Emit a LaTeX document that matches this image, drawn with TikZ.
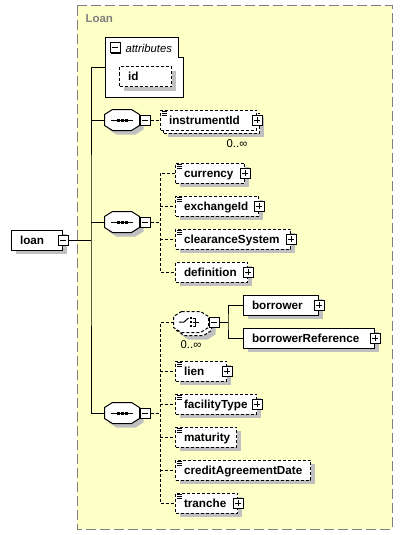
\documentclass[tikz,border=0pt]{standalone}
\usepackage{fontspec}
\setmainfont{Liberation Sans}
\usetikzlibrary{shadows,positioning}

\definecolor{typebg}{RGB}{255,255,200}
\definecolor{typeline}{RGB}{128,128,128}
\definecolor{shadowgrey}{RGB}{192,192,192}

\newcommand{\elemfont}{\fontsize{11.7}{14}\selectfont\bfseries}
\newcommand{\notefont}{\fontsize{11.3}{14}\selectfont}

% small marks drawn inside nodes
\newcommand{\typemark}[1]{%
  \foreach \dy in {2,4,6} \draw ([shift={(1.5pt,-\dy pt)}]#1.north west) -- ++(5pt,0pt);}
\newcommand{\seqicon}[1]{%
  \draw ([xshift=-11pt]#1.center) -- ([xshift=11pt]#1.center);
  \foreach \dx in {-4,0,4} \fill ([shift={(\dx pt-1.5pt,-1.5pt)}]#1.center) rectangle ++(3pt,3pt);}
\newcommand{\choiceicon}[1]{%
  \draw ([xshift=-12pt]#1.center) -- ([xshift=-7pt]#1.center) -- ([shift={(-2.5pt,4pt)}]#1.center);
  \foreach \dy in {-4,0,4} \fill ([shift={(-1.5pt,\dy pt-1.2pt)}]#1.center) rectangle ++(2.5pt,2.5pt);
  \draw ([shift={(1.5pt,4pt)}]#1.center) -- ([shift={(4.5pt,4pt)}]#1.center) -- ([shift={(4.5pt,-4pt)}]#1.center) -- ([shift={(1.5pt,-4pt)}]#1.center)
        ([shift={(1.5pt,0pt)}]#1.center) -- ([shift={(8pt,0pt)}]#1.center);}
% octagon of a compositor, with its shadow
\newcommand{\compshape}[2][]{%
  \fill[shadowgrey, transform canvas={shift={(4pt,-4pt)}}, octagon=#2];
  \filldraw[fill=white, #1, octagon=#2];}

\tikzset{
  box/.style={rectangle, draw=black, fill=white, font=\elemfont, minimum height=20pt, inner xsep=8.5pt, inner ysep=0pt,
    text height=10.5pt, text depth=2.5pt, align=left, anchor=west},
  opt/.style={box, dash pattern=on 3pt off 2pt},
  shadowed/.style={drop shadow={shadow xshift=4pt, shadow yshift=-4pt, fill=shadowgrey, opacity=1}},
  compositor/.style={rectangle, minimum width=34pt, minimum height=20pt, inner sep=0pt},
  octagon/.style={insert path={([xshift=8pt]#1.north west) -- ([xshift=-8pt]#1.north east) -- ([yshift=-5pt]#1.north east)
    -- ([yshift=5pt]#1.south east) -- ([xshift=-8pt]#1.south east) -- ([xshift=8pt]#1.south west)
    -- ([yshift=5pt]#1.south west) -- ([yshift=-5pt]#1.north west) -- cycle}},
  pmbox/.style={rectangle, draw=black, fill=white, minimum size=10pt, inner sep=0pt,
    drop shadow={shadow xshift=1pt, shadow yshift=-1pt, fill=black, opacity=1}},
  minusbox/.style={pmbox, path picture={
    \draw ([xshift=2pt]path picture bounding box.west) -- ([xshift=-2pt]path picture bounding box.east);}},
  plusbox/.style={pmbox, path picture={
    \draw ([xshift=2pt]path picture bounding box.west) -- ([xshift=-2pt]path picture bounding box.east)
          ([yshift=-2pt]path picture bounding box.north) -- ([yshift=2pt]path picture bounding box.south);}},
  link/.style={dash pattern=on 3pt off 2pt},
  note/.style={font=\notefont, inner sep=0pt}
}

\begin{document}
\begin{tikzpicture}[x=1pt, y=-1pt, line width=1pt]
  \useasboundingbox (0,0) rectangle (402,535);

  % complex type
  \draw[typeline, fill=typebg, dash pattern=on 10pt off 4pt] (77,6) rectangle (392,529);
  \node[anchor=west, inner sep=0pt, text=typeline, font=\fontsize{11.5}{13}\selectfont\bfseries] (typename) at (85,19) {Loan};

  % attributes
  \draw[fill=white] (105,38) -- (178,38) -- (178,58) -- (183,58) -- (183,97) -- (105,97) -- cycle;
  \coordinate (attrs) at (105,67.5);
  \node[minusbox] (attrsm) at (115,48) {};
  \node[anchor=west, inner sep=0pt, font=\notefont\itshape] (attrslabel) at (125,48) {attributes};
  \node[opt, shadowed, text width=35pt] (id) at (119,76.5) {id};

  % root element
  \node[box, shadowed, text width=34pt] (loan) at (11,240) {loan};
  \node[minusbox] (loanm) at (loan.east) {};

  % first sequence
  \node[compositor] (seqA) at (122,120) {};
  \compshape{seqA}
  \node[minusbox, anchor=west] (seqAm) at (seqA.east) {};
  \node[opt, shadowed, minimum width=96pt] (instrback) at (163,123) {};
  \node[opt, text width=79pt] (instr) at (160,120) {instrumentId};
  \node[plusbox] (instrp) at (instr.east) {};
  \node[note] (instrn) at (237,144) {0..∞};

  % second sequence
  \node[compositor] (seqB) at (122,222) {};
  \compshape{seqB}
  \node[minusbox, anchor=west] (seqBm) at (seqB.east) {};
  \coordinate (forkB) at (160,222);
  \node[opt, shadowed, text width=52pt] (currency) at (175,173) {currency};
  \node[plusbox] (currencyp) at (currency.east) {};
  \node[opt, shadowed, text width=66pt] (exchangeId) at (175,206) {exchangeId};
  \node[plusbox] (exchangeIdp) at (exchangeId.east) {};
  \node[opt, shadowed, text width=98pt] (clearanceSystem) at (175,239) {clearanceSystem};
  \node[plusbox] (clearanceSystemp) at (clearanceSystem.east) {};
  \node[opt, shadowed, text width=55pt] (definition) at (175,272) {definition};
  \node[plusbox] (definitionp) at (definition.east) {};

  % third sequence
  \node[compositor] (seqC) at (122,413) {};
  \compshape{seqC}
  \node[minusbox, anchor=west] (seqCm) at (seqC.east) {};
  \coordinate (forkC) at (160,413);
  \node[compositor] (choiceback) at (194,325) {};
  \compshape[link]{choiceback}
  \node[compositor] (choice) at (191,322) {};
  \filldraw[fill=white, link, octagon=choice];
  \node[minusbox, anchor=west] (choicem) at (choice.east) {};
  \node[note] (choicen) at (191,345) {0..∞};
  \coordinate (forkD) at (228,322);
  \node[box, shadowed, text width=58pt] (borrower) at (243,305) {borrower};
  \node[plusbox] (borrowerp) at (borrower.east) {};
  \node[box, shadowed, text width=114pt] (borrowerRef) at (243,338) {borrowerReference};
  \node[plusbox] (borrowerRefp) at (borrowerRef.east) {};
  \node[opt, shadowed, text width=34pt] (lien) at (175,371) {lien};
  \node[plusbox] (lienp) at (lien.east) {};
  \node[opt, shadowed, text width=64pt] (facilityType) at (175,404) {facilityType};
  \node[plusbox] (facilityTypep) at (facilityType.east) {};
  \node[opt, shadowed, text width=44pt] (maturity) at (175,437) {maturity};
  \node[opt, shadowed, text width=118pt] (creditAgreementDate) at (175,470) {creditAgreementDate};
  \node[opt, shadowed, text width=45pt] (tranche) at (175,503) {tranche};
  \node[plusbox] (tranchep) at (tranche.east) {};

  % marks
  \foreach \n in {instr,currency,exchangeId,clearanceSystem,lien,facilityType,maturity,creditAgreementDate,tranche}
    \typemark{\n};
  \seqicon{seqA}
  \seqicon{seqB}
  \seqicon{seqC}
  \choiceicon{choice}

  % connectors
  \coordinate (spine) at (91,240);
  \draw (loanm.east) -- (spine);
  \draw (attrs) -| (spine) |- (seqC.west);
  \draw (spine |- seqA.west) -- (seqA.west);
  \draw (spine |- seqB.west) -- (seqB.west);
  \draw[link] (seqAm.east) -- (instr.west);
  \draw[link] (seqBm.east) -- (forkB);
  \draw[link] (currency.west) -| (forkB) |- (definition.west);
  \foreach \n in {exchangeId,clearanceSystem}
    \draw[link] (forkB |- \n.west) -- (\n.west);
  \draw[link] (seqCm.east) -- (forkC);
  \draw[link] (choice.west) -| (forkC) |- (tranche.west);
  \foreach \n in {lien,facilityType,maturity,creditAgreementDate}
    \draw[link] (forkC |- \n.west) -- (\n.west);
  \draw (choicem.east) -- (forkD);
  \draw (borrower.west) -| (forkD) |- (borrowerRef.west);

\end{tikzpicture}
\end{document}
